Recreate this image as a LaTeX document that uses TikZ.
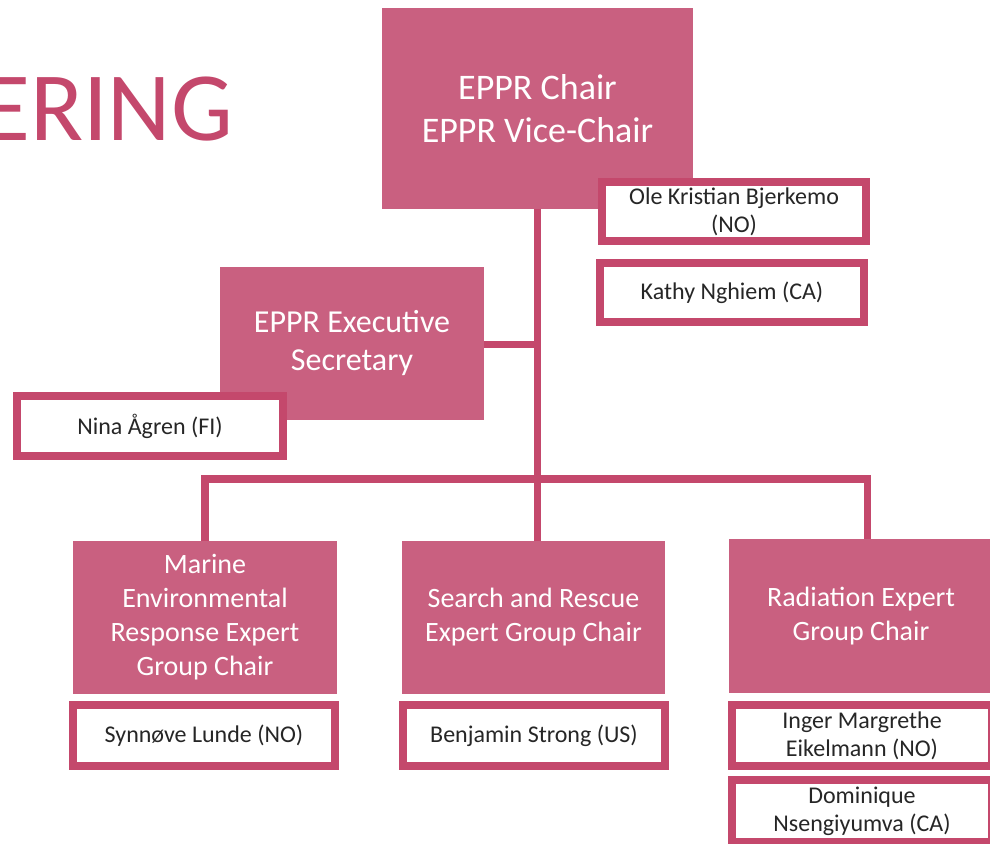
\documentclass[tikz,border=0pt]{standalone}
\usepackage{fontspec}
\setmainfont{Carlito}
\definecolor{boxpink}{RGB}{201,96,128}
\definecolor{edgepink}{RGB}{196,72,108}
\definecolor{namegray}{RGB}{38,38,38}
\tikzset{
  rolebox/.style={fill=boxpink, text=white, align=center, inner sep=0pt},
  namebox/.style={draw=edgepink, line width=8pt, fill=white, text=namegray, align=center,
    inner sep=0pt, minimum width=264pt, minimum height=59pt,
    font=\fontsize{24}{28}\selectfont},
  link/.style={draw=edgepink, line width=7.5pt}
}
\begin{document}
\begin{tikzpicture}[x=1pt, y=-1pt]
\useasboundingbox (0,0) rectangle (990,843);
% title cut at the left edge
\node[anchor=base west, text=edgepink, inner sep=0pt, font=\fontsize{98}{98}\selectfont] (title) at (-18,140) {ERING};
% links
\coordinate (hub) at (537.5,479);
\coordinate (radtop) at (867.5,539);
\coordinate (chairfoot) at (537.5,209);
\draw[link] (chairfoot) -- (hub);
\draw[link] (205,541) |- (hub) -| (radtop);
\draw[link] (hub) -- (537.5,541);
\draw[link] (484,344.5) -- (537.5,344.5);
% role boxes
\node[rolebox, minimum width=311pt, minimum height=201pt, font=\fontsize{36}{43}\selectfont] (chair) at (537.5,108.5) {EPPR Chair\\EPPR Vice-Chair};
\node[rolebox, minimum width=264pt, minimum height=153pt, font=\fontsize{32}{38}\selectfont] (exec) at (352,343.5) {EPPR Executive\\Secretary};
\node[rolebox, minimum width=264pt, minimum height=153pt, font=\fontsize{28}{34}\selectfont] (marine) at (205,617.5) {Marine\\Environmental\\Response Expert\\Group Chair};
\node[rolebox, minimum width=263pt, minimum height=153pt, font=\fontsize{28}{34}\selectfont] (search) at (533.5,617.5) {Search and Rescue\\Expert Group Chair};
\node[rolebox, minimum width=264pt, minimum height=154pt, font=\fontsize{28}{34}\selectfont] (radiation) at (861,616) {Radiation Expert\\Group Chair};
% name boxes
\node[namebox] (ole) at (734,211.5) {Ole Kristian Bjerkemo\\(NO)};
\node[namebox] (kathy) at (732,292.5) {Kathy Nghiem (CA)};
\node[namebox, minimum width=266pt, minimum height=60pt] (nina) at (150,426) {Nina Ågren (FI)};
\node[namebox, minimum width=262pt, minimum height=61pt] (synnove) at (204,735.5) {Synnøve Lunde (NO)};
\node[namebox, minimum width=262pt, minimum height=61pt] (benjamin) at (534,735.5) {Benjamin Strong (US)};
\node[namebox, minimum width=260pt, minimum height=61pt] (inger) at (862,735.5) {Inger Margrethe\\Eikelmann (NO)};
\node[namebox, minimum width=260pt, minimum height=62pt] (dominique) at (862,811) {Dominique\\Nsengiyumva (CA)};
\end{tikzpicture}
\end{document}
